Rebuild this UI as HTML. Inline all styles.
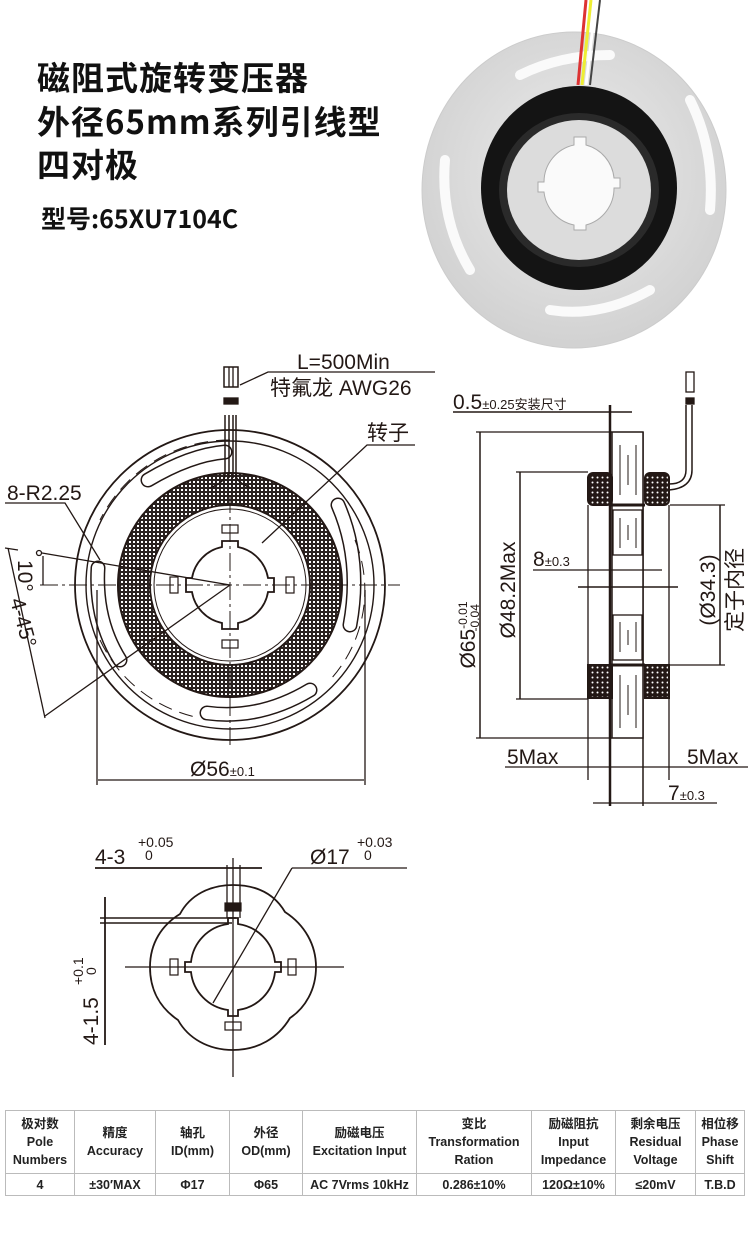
<!DOCTYPE html>
<html><head><meta charset="utf-8"><style>
html,body{margin:0;padding:0;background:#fff}
body{width:750px;height:1245px;position:relative;overflow:hidden;font-family:"Liberation Sans","Noto Sans CJK SC",sans-serif;color:#231815}
.t{position:absolute;left:37px;font-weight:bold;font-size:33px;letter-spacing:1px;white-space:nowrap;color:#111;font-family:"Noto Sans CJK SC","Liberation Sans",sans-serif}
table{position:absolute;left:5px;top:1110px;width:740px;border-collapse:collapse;font-size:12.5px;font-weight:bold;text-align:center;font-family:"Liberation Sans","Noto Sans CJK SC",sans-serif}
td{border:1px solid #bbb;padding:0;line-height:18px;color:#222}
tr.h td{height:62px}
tr.d td{height:21px}
</style></head><body>
<div class="t" style="top:52px">磁阻式旋转变压器</div>
<div class="t" style="top:96px">外径65mm系列引线型</div>
<div class="t" style="top:139px">四对极</div>
<div class="t" style="top:200px;left:41px;font-size:25px;font-weight:bold;letter-spacing:0">型号:65XU7104C</div>

<svg width="750" height="1245" style="position:absolute;left:0;top:0" xmlns="http://www.w3.org/2000/svg">
<defs>
<radialGradient id="pl" cx="50%" cy="45%" r="60%"><stop offset="0" stop-color="#ececec"/><stop offset="1" stop-color="#cfcfcf"/></radialGradient>
<pattern id="hx" width="4" height="4" patternUnits="userSpaceOnUse"><rect width="4" height="4" fill="#2a2220"/><rect x="1" y="1" width="2" height="2" fill="#fff"/></pattern>
<pattern id="dt" width="5" height="5" patternUnits="userSpaceOnUse"><rect width="5" height="5" fill="#231815"/><circle cx="2.5" cy="2.5" r="1" fill="#fff"/></pattern>
</defs>
<!-- photo -->
<g>
<ellipse cx="574" cy="190" rx="152" ry="158" fill="url(#pl)" stroke="#ccc"/>
<path d="M520 75 Q560 55 610 55" stroke="#fafafa" stroke-width="10" fill="none" stroke-linecap="round"/>
<path d="M690 100 Q715 150 710 210" stroke="#fafafa" stroke-width="10" fill="none" stroke-linecap="round"/>
<path d="M445 160 Q440 220 470 270" stroke="#fafafa" stroke-width="10" fill="none" stroke-linecap="round"/>
<path d="M550 310 Q600 318 650 290" stroke="#fafafa" stroke-width="10" fill="none" stroke-linecap="round"/>
<ellipse cx="579" cy="188" rx="98" ry="102" fill="#141414"/>
<ellipse cx="579" cy="190" rx="80" ry="77" fill="#2a2a2a"/>
<ellipse cx="579" cy="190" rx="72" ry="70" fill="#dcdcdc"/>
<path d="M574 145 V137 H586 V145 A38 38 0 0 1 614 178 H620 V188 H614 A38 38 0 0 1 586 225 V230 H574 V225 A38 38 0 0 1 544 192 H538 V182 H544 A38 38 0 0 1 574 145 Z" fill="#fafafa" stroke="#aaa"/>
<path d="M586 0 L578 85" stroke="#d33" stroke-width="3"/><path d="M591 0 L582 85" stroke="#ee3" stroke-width="3"/><path d="M596 0 L586 85" stroke="#fff" stroke-width="3"/><path d="M600 0 L590 85" stroke="#444" stroke-width="2"/>
</g>

<g stroke="#231815" fill="none" stroke-width="1.3">
<!-- FRONT VIEW -->
<circle cx="230" cy="585" r="155" stroke-width="1.8"/>
<circle cx="230" cy="585" r="144" stroke-width="1.4"/>
<circle cx="230" cy="585" r="112" fill="url(#hx)" stroke-width="2"/>
<circle cx="230" cy="585" r="80" fill="#fff" stroke-width="1.8"/>
<circle cx="230" cy="585" r="76" stroke-width="1"/>
<path d="M148 480 Q190 455 225 452" stroke-width="15" stroke-linecap="round" stroke="#231815"/>
<path d="M148 480 Q190 455 225 452" stroke-width="12" stroke-linecap="round" stroke="#fff"/>
<path d="M338 505 Q362 560 350 625" stroke-width="15" stroke-linecap="round"/>
<path d="M338 505 Q362 560 350 625" stroke-width="12" stroke-linecap="round" stroke="#fff"/>
<path d="M98 568 Q95 620 120 660" stroke-width="15" stroke-linecap="round"/>
<path d="M98 568 Q95 620 120 660" stroke-width="12" stroke-linecap="round" stroke="#fff"/>
<path d="M207 713 Q260 720 310 690" stroke-width="15" stroke-linecap="round"/>
<path d="M207 713 Q260 720 310 690" stroke-width="12" stroke-linecap="round" stroke="#fff"/>
<path d="M230 440 A145 145 0 0 0 100 520" stroke-dasharray="14 8" stroke-width="1"/>
<path d="M355 540 A133 133 0 0 1 330 680" stroke-dasharray="14 8" stroke-width="1"/>
<path d="M100 640 A140 140 0 0 0 200 718" stroke-dasharray="14 8" stroke-width="1"/>
<rect x="224" y="367" width="14" height="20" fill="#fff" stroke-width="1.5"/>
<line x1="229" y1="367" x2="229" y2="387"/><line x1="233" y1="367" x2="233" y2="387"/>
<rect x="224" y="398" width="14" height="6" fill="#231815"/>
<path d="M225 415 V475 Q225 482 210 488 M236 415 V475 Q236 482 251 488 M229 415 V478 M233 415 V478" stroke-width="1.5"/>
<path d="M222 547 V541 H238 V547 A38 38 0 0 1 268 578 H274 V592 H268 A38 38 0 0 1 238 623 V629 H222 V623 A38 38 0 0 1 192 592 H186 V578 H192 A38 38 0 0 1 222 547 Z" fill="#fff" stroke-width="1.8"/>
<g stroke-width="1.2"><rect x="222" y="525" width="16" height="8"/><rect x="222" y="640" width="16" height="8"/><rect x="170" y="577" width="8" height="16"/><rect x="286" y="577" width="8" height="16"/></g>
<line x1="40" y1="585" x2="400" y2="585" stroke-width="1" stroke-dasharray="18 4 3 4"/>
<line x1="230" y1="495" x2="230" y2="748" stroke-width="1" stroke-dasharray="18 4 3 4"/>
<polyline points="240,385 268,372 435,372" stroke-width="1.3"/>
<polyline points="415,445 367,445 262,543" stroke-width="1.3"/>
<polyline points="5,503 65,503 100,560" stroke-width="1.3"/>
<line x1="230" y1="585" x2="42" y2="553"/>
<line x1="230" y1="585" x2="45" y2="716"/>
<circle cx="39" cy="553" r="2.5"/>
<line x1="43" y1="556" x2="43" y2="585"/>
<path d="M8 548 Q28 640 45 718" stroke-width="1.3"/>
<line x1="5" y1="548" x2="18" y2="550"/>
<line x1="97" y1="590" x2="97" y2="785"/><line x1="365" y1="590" x2="365" y2="785"/>
<line x1="98" y1="780" x2="364" y2="780"/>

<!-- SIDE VIEW -->
<polyline points="453,412 632,412" stroke-width="1.5"/>
<line x1="610" y1="405" x2="610" y2="806" stroke-width="2.5"/>
<line x1="643" y1="432" x2="643" y2="806" stroke-width="1.5"/>
<rect x="612" y="432" width="31" height="306" stroke-width="1.5" fill="#fff"/>
<rect x="588" y="473" width="24" height="32" rx="5" fill="url(#dt)" stroke-width="2"/>
<rect x="645" y="473" width="24" height="32" rx="5" fill="url(#dt)" stroke-width="2"/>
<rect x="588" y="665" width="24" height="33" fill="url(#dt)" stroke-width="2"/>
<rect x="645" y="665" width="24" height="33" fill="url(#dt)" stroke-width="2"/>
<line x1="611" y1="505" x2="645" y2="505" stroke-width="3"/>
<line x1="611" y1="665" x2="645" y2="665" stroke-width="3"/>
<rect x="613" y="510" width="29" height="45"/><rect x="613" y="615" width="29" height="45"/>
<g stroke-width="1"><line x1="620" y1="445" x2="620" y2="495"/><line x1="628" y1="455" x2="628" y2="485"/><line x1="636" y1="445" x2="636" y2="495"/>
<line x1="620" y1="518" x2="620" y2="548"/><line x1="628" y1="525" x2="628" y2="540"/><line x1="636" y1="518" x2="636" y2="548"/>
<line x1="620" y1="622" x2="620" y2="652"/><line x1="628" y1="630" x2="628" y2="645"/><line x1="636" y1="622" x2="636" y2="652"/>
<line x1="620" y1="675" x2="620" y2="728"/><line x1="628" y1="685" x2="628" y2="715"/><line x1="636" y1="675" x2="636" y2="728"/></g>
<line x1="588" y1="505" x2="588" y2="780"/><line x1="669" y1="505" x2="669" y2="780"/>
<line x1="476" y1="432" x2="612" y2="432"/><line x1="476" y1="738" x2="612" y2="738"/><line x1="480" y1="432" x2="480" y2="738" stroke-width="1.5"/>
<line x1="516" y1="472" x2="588" y2="472"/><line x1="516" y1="699" x2="588" y2="699"/><line x1="520" y1="472" x2="520" y2="699" stroke-width="1.5"/>
<line x1="670" y1="505" x2="725" y2="505"/><line x1="670" y1="665" x2="725" y2="665"/><line x1="720" y1="505" x2="720" y2="665" stroke-width="1.5"/>
<line x1="533" y1="570" x2="662" y2="570"/>
<line x1="578" y1="587" x2="678" y2="587" stroke-width="1.5"/>
<line x1="505" y1="767" x2="748" y2="767"/>
<line x1="593" y1="803" x2="717" y2="803"/>
<path d="M669 490 Q692 488 692 470 V405 M669 484 Q686 484 686 470 V405" stroke-width="1.5"/>
<rect x="686" y="372" width="8" height="20"/><rect x="686" y="398" width="8" height="6" fill="#231815"/>

<!-- BOTTOM VIEW -->
<path d="M233 885 C258 885 275 895 285 912 C305 925 316 945 316 967 C316 990 305 1008 290 1018 C278 1038 258 1050 233 1050 C208 1050 188 1038 178 1020 C160 1008 150 990 150 967 C150 943 162 925 180 914 C190 895 210 885 233 885 Z" stroke-width="1.8"/>
<path d="M228 924 V918 H238 V924 A43 43 0 0 1 275 962 H281 V972 H275 A43 43 0 0 1 238 1010 V1016 H228 V1010 A43 43 0 0 1 191 972 H185 V962 H191 A43 43 0 0 1 228 924 Z" stroke-width="1.8"/>
<g stroke-width="1.2"><rect x="225" y="903" width="16" height="8" fill="#231815"/><rect x="225" y="1022" width="16" height="8"/><rect x="170" y="959" width="8" height="16"/><rect x="288" y="959" width="8" height="16"/></g>
<line x1="233" y1="858" x2="233" y2="1077"/><line x1="125" y1="967" x2="344" y2="967"/>
<line x1="227" y1="865" x2="227" y2="918"/><line x1="240" y1="865" x2="240" y2="918"/>
<line x1="95" y1="868" x2="262" y2="868" stroke-width="1.8"/>
<line x1="292" y1="868" x2="407" y2="868"/><line x1="292" y1="868" x2="213" y2="1003"/>
<line x1="105" y1="897" x2="105" y2="1045" stroke-width="1.8"/>
<line x1="100" y1="918" x2="236" y2="918" stroke-width="1.5"/><line x1="100" y1="923" x2="232" y2="923" stroke-width="1.5"/>
</g>

<g fill="#231815" font-family="Liberation Sans, Noto Sans CJK SC, sans-serif" font-size="21">
<text x="297" y="369">L=500Min</text>
<text x="270" y="395">特氟龙 AWG26</text>
<text x="367" y="440">转子</text>
<text x="7" y="500">8-R2.25</text>
<text transform="translate(18,560) rotate(90)">10°</text>
<text transform="translate(10,600) rotate(75)">4-45°</text>
<text x="190" y="776">Ø56<tspan font-size="13">±0.1</tspan></text>
<text x="453" y="409">0.5<tspan font-size="13">±0.25安装尺寸</tspan></text>
<text transform="translate(475,635) rotate(-90)" text-anchor="middle">Ø65<tspan font-size="12" dy="-8">-0.01</tspan><tspan font-size="12" dx="-30" dy="12">-0.04</tspan></text>
<text transform="translate(515,590) rotate(-90)" text-anchor="middle">Ø48.2Max</text>
<text x="533" y="566">8<tspan font-size="13">±0.3</tspan></text>
<text transform="translate(715,590) rotate(-90)" text-anchor="middle">(Ø34.3)</text>
<text transform="translate(742,590) rotate(-90)" text-anchor="middle">定子内径</text>
<text x="507" y="764">5Max</text>
<text x="687" y="764">5Max</text>
<text x="668" y="800">7<tspan font-size="13">±0.3</tspan></text>
<text x="95" y="864">4-3</text><text x="138" y="847" font-size="14">+0.05</text><text x="145" y="860" font-size="14">0</text>
<text x="310" y="864">Ø17</text><text x="357" y="847" font-size="14">+0.03</text><text x="364" y="860" font-size="14">0</text>
<text transform="translate(98,1045) rotate(-90)">4-1.5</text>
<text transform="translate(83,985) rotate(-90)" font-size="14">+0.1</text>
<text transform="translate(96,975) rotate(-90)" font-size="14">0</text>
</g>
</svg>

<table>
<tr class="h"><td style="width:68px">极对数<br>Pole<br>Numbers</td><td style="width:80px">精度<br>Accuracy</td><td style="width:73px">轴孔<br>ID(mm)</td><td style="width:72px">外径<br>OD(mm)</td><td style="width:113px">励磁电压<br>Excitation Input</td><td style="width:114px">变比<br>Transformation<br>Ration</td><td style="width:83px">励磁阻抗<br>Input<br>Impedance</td><td style="width:79px">剩余电压<br>Residual<br>Voltage</td><td>相位移<br>Phase<br>Shift</td></tr>
<tr class="d"><td>4</td><td>±30′MAX</td><td>Φ17</td><td>Φ65</td><td>AC 7Vrms 10kHz</td><td>0.286±10%</td><td>120Ω±10%</td><td>≤20mV</td><td>T.B.D</td></tr>
</table>
</body></html>
